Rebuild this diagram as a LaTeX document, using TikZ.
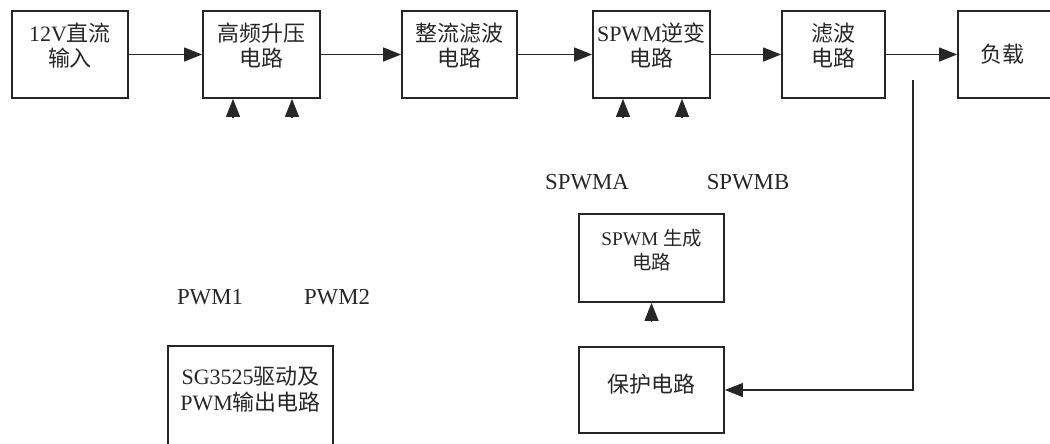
\documentclass[tikz,border=0pt]{standalone}
\usepackage{fontspec}
\setmainfont{Liberation Serif}
\newfontfamily\cjk{Noto Sans CJK SC}
\usetikzlibrary{arrows.meta}

\newcommand{\zh}[1]{{\cjk #1}}

\tikzset{
  blk/.style={draw=black!85, line width=1pt, inner sep=0pt, align=center,
    font=\fontsize{12.5}{14.5}\selectfont, text=black!85},
  sig/.style={-{Triangle[length=0.36cm, width=0.28cm]}, line width=0.6pt, draw=black!85},
  lbl/.style={font=\fontsize{13}{15}\selectfont, inner sep=0pt, text=black!85},
}

\begin{document}
\begin{tikzpicture}[x=0.02cm, y=-0.02cm]
    \useasboundingbox (0,0) rectangle (1050,443);

    % Main chain
    \node[blk, minimum width=2.32cm, minimum height=1.74cm, text depth=11pt] (dcin) at (70,54.5) {12V\zh{直流}\\\zh{输入}};
    \node[blk, minimum width=2.34cm, minimum height=1.74cm, text depth=11pt] (boost) at (261.5,54.5) {\zh{高频升压}\\\zh{电路}};
    \node[blk, minimum width=2.30cm, minimum height=1.74cm, text depth=11pt] (rect) at (459.5,54.5) {\zh{整流滤波}\\\zh{电路}};
    \node[blk, minimum width=2.34cm, minimum height=1.74cm, text depth=11pt] (inv) at (651.5,54.5) {SPWM\zh{逆变}\\\zh{电路}};
    \node[blk, minimum width=2.06cm, minimum height=1.74cm, text depth=11pt] (filt) at (833.5,54.5) {\zh{滤波}\\\zh{电路}};
    \node[blk, minimum width=2.34cm, minimum height=1.74cm] (load) at (1016.5,54.5) {\zh{负载}\hspace{0.55cm}};

    \draw[sig] (dcin) -- (boost);
    \draw[sig] (boost) -- (rect);
    \draw[sig] (rect) -- (inv);
    \draw[sig] (inv) -- (filt);
    \draw[sig] (filt) -- (load);

    % Control part
    \node[blk, minimum width=2.90cm, minimum height=1.76cm, text depth=10pt,
      font=\fontsize{11}{13.5}\selectfont] (gen) at (651.5,258) {SPWM \zh{生成}\\\zh{电路}};
    \node[blk, minimum width=2.90cm, minimum height=1.72cm, text depth=8pt] (prot) at (651.5,390) {\zh{保护电路}};
    \node[blk, minimum width=3.30cm, minimum height=2.48cm, text depth=22pt] (drv) at (250.5,408) {SG3525\zh{驱动及}\\PWM\zh{输出电路}};

    \node[lbl] (pwm1) at (210,297) {PWM1};
    \node[lbl] (pwm2) at (337,297) {PWM2};
    \node[lbl] (spwma) at (587,182) {SPWMA};
    \node[lbl] (spwmb) at (748,182) {SPWMB};

    % Drive inputs
    \coordinate (p1) at (233,117.5);
    \coordinate (p2) at (292,117.5);
    \coordinate (sa) at (623,117.5);
    \coordinate (sb) at (682,117.5);
    \coordinate (pg) at (651.5,321.5);
    \draw[sig] (p1) -- (p1 |- boost.south);
    \draw[sig] (p2) -- (p2 |- boost.south);
    \draw[sig] (sa) -- (sa |- inv.south);
    \draw[sig] (sb) -- (sb |- inv.south);
    \draw[sig] (pg) -- (gen);

    % Feedback
    \coordinate (fb) at (913,80);
    \draw[sig] (fb) |- (prot);
\end{tikzpicture}
\end{document}
